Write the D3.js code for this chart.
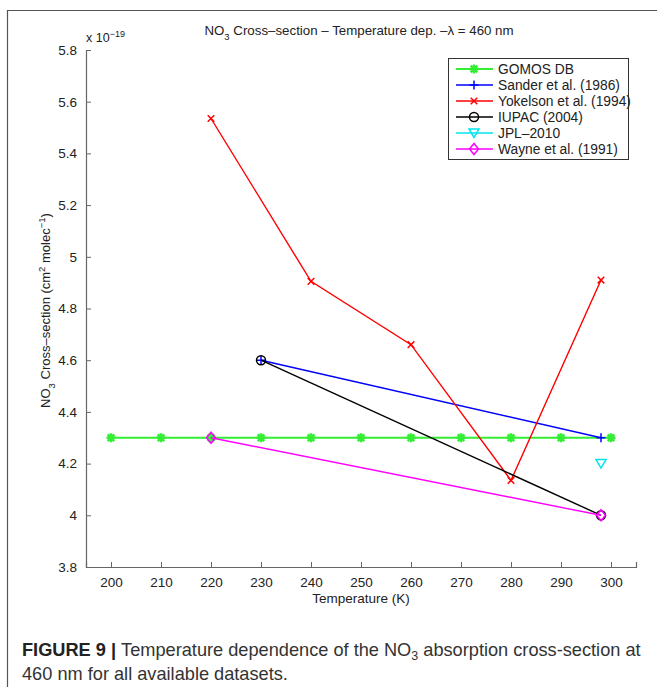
<!DOCTYPE html>
<html>
<head>
<meta charset="utf-8">
<script src="https://cdn.jsdelivr.net/npm/d3@7"></script>
<style>
  body { margin: 0; background: #fff; }
  svg text { font-family: "Liberation Sans", Arial, sans-serif; }
</style>
</head>
<body>
<div id="chart"></div>
<script>
// data (cross-section in units of 1e-19 cm2/molec)
var gomosT = [200, 210, 220, 230, 240, 250, 260, 270, 280, 290, 300];
var gomosV = [4.3, 4.3, 4.3, 4.3, 4.3, 4.3, 4.3, 4.3, 4.3, 4.3, 4.3];
var sanderT = [230, 298];
var sanderV = [4.6, 4.3];
var yokelsonT = [220, 240, 260, 280, 298];
var yokelsonV = [5.535, 4.905, 4.66, 4.135, 4.91];
var iupacT = [230, 298];
var iupacV = [4.6, 4.0];
var jplT = [298];
var jplV = [4.2];
var wayneT = [220, 298];
var wayneV = [4.3, 4.0];

var xTicks = [200, 210, 220, 230, 240, 250, 260, 270, 280, 290, 300];
var yTicks = [3.8, 4, 4.2, 4.4, 4.6, 4.8, 5, 5.2, 5.4, 5.6, 5.8];

var series = [
    {name: "GOMOS DB", t: gomosT, v: gomosV, color: "#33ee33", marker: "star"},
    {name: "Sander et al. (1986)", t: sanderT, v: sanderV, color: "#0000ff", marker: "plus"},
    {name: "Yokelson et al. (1994)", t: yokelsonT, v: yokelsonV, color: "#ff0000", marker: "cross"},
    {name: "IUPAC (2004)", t: iupacT, v: iupacV, color: "#000000", marker: "circle"},
    {name: "JPL\u20132010", t: jplT, v: jplV, color: "#00e5ee", marker: "triangle"},
    {name: "Wayne et al. (1991)", t: wayneT, v: wayneV, color: "#ff00ff", marker: "diamond"}
];

var svgWidth = 657, svgHeight = 687;
var margin = {top: 50, left: 86, right: 21, bottom: 120};
var chart_width = svgWidth - margin.left - margin.right;
var chart_height = svgHeight - margin.top - margin.bottom;

var svg = d3.select("#chart").append("svg")
    .attr("width", svgWidth)
    .attr("height", svgHeight);

// outer frame of the figure panel
svg.append("path")
    .attr("d", "M7.5,700 V10.5 H700")
    .attr("fill", "none")
    .attr("stroke", "#555")
    .attr("stroke-width", 1.2);

var chartGroup = svg.append("g")
    .attr("transform", `translate(${margin.left}, ${margin.top})`);

var xScale = d3.scaleLinear().domain([195, 305]).range([0, chart_width]);
var yScale = d3.scaleLinear().domain([3.8, 5.8]).range([chart_height, 0]);

// axes, MATLAB style ticks pointing inward
var bottomAxis = d3.axisBottom(xScale).tickValues(xTicks).tickSize(-5).tickPadding(10).tickFormat(d3.format("d"));
var leftAxis = d3.axisLeft(yScale).tickValues(yTicks).tickSize(-5).tickPadding(9).tickFormat(d => d3.format("")(+d.toFixed(1)));

var xAxis = chartGroup.append("g")
    .attr("transform", `translate(0, ${chart_height})`)
    .call(bottomAxis);
var yAxis = chartGroup.append("g").call(leftAxis);

[xAxis, yAxis].forEach(function(ax) {
    ax.select(".domain").attr("stroke", "#666").attr("stroke-width", 1.2);
    ax.selectAll(".tick line").attr("stroke", "#666");
    ax.selectAll(".tick text").attr("font-size", 13.5).attr("fill", "#222")
        .attr("font-family", "Liberation Sans, Arial, sans-serif");
});

// exponent label
var expo = chartGroup.append("text")
    .attr("x", 0).attr("y", -8)
    .attr("font-size", 12.5).attr("fill", "#222");
expo.append("tspan").text("x 10");
expo.append("tspan").attr("dy", -5).attr("font-size", 9).text("\u221219");

// title
var title = svg.append("text")
    .attr("x", 359).attr("y", 35)
    .attr("text-anchor", "middle").attr("font-size", 13.3).attr("fill", "#222");
title.append("tspan").text("NO");
title.append("tspan").attr("dy", 5).attr("font-size", 9.5).text("3");
title.append("tspan").attr("dy", -5).text(" Cross\u2013section \u2013 Temperature dep. \u2013\u03bb = 460 nm");

// axis labels
svg.append("text")
    .attr("x", margin.left + chart_width / 2).attr("y", margin.top + chart_height + 36)
    .attr("text-anchor", "middle").attr("font-size", 13.5).attr("fill", "#222")
    .text("Temperature (K)");

var ylab = svg.append("text")
    .attr("transform", `translate(50, ${margin.top + chart_height / 2 + 2}) rotate(-90)`)
    .attr("text-anchor", "middle").attr("font-size", 13).attr("fill", "#222");
ylab.append("tspan").text("NO");
ylab.append("tspan").attr("dy", 5).attr("font-size", 9.5).text("3");
ylab.append("tspan").attr("dy", -5).text(" Cross\u2013section (cm");
ylab.append("tspan").attr("dy", -5).attr("font-size", 9.5).text("2");
ylab.append("tspan").attr("dy", 5).text(" molec");
ylab.append("tspan").attr("dy", -5).attr("font-size", 9.5).text("\u22121");
ylab.append("tspan").attr("dy", 5).text(")");

// markers
function markerPath(type) {
    var s = 4.5;
    switch (type) {
        case "plus": return `M${-s},0H${s}M0,${-s}V${s}`;
        case "cross": return `M-3.3,-3.3L3.3,3.3M-3.3,3.3L3.3,-3.3`;
        case "star": return `M${-s},0H${s}M0,${-s}V${s}M-3.3,-3.3L3.3,3.3M-3.3,3.3L3.3,-3.3`;
        case "circle": return `M${s},0A${s},${s} 0 1,1 ${-s},0A${s},${s} 0 1,1 ${s},0Z`;
        case "triangle": return `M-5,-4H5L0,4.5Z`;
        case "diamond": return `M0,-5.5L4.5,0L0,5.5L-4.5,0Z`;
    }
}

var line = d3.line().x(d => xScale(d[0])).y(d => yScale(d[1]));

series.forEach(function(s) {
    var pts = s.t.map((t, i) => [t, s.v[i]]);
    var g = chartGroup.append("g");
    if (pts.length > 1) {
        g.append("path")
            .datum(pts)
            .attr("d", line)
            .attr("fill", "none")
            .attr("stroke", s.color)
            .attr("stroke-width", s.marker == "star" ? 2 : 1.4);
    }
    g.selectAll("path.mk")
        .data(pts)
        .enter()
        .append("path")
        .attr("class", "mk")
        .attr("transform", d => `translate(${xScale(d[0])}, ${yScale(d[1])})`)
        .attr("d", markerPath(s.marker))
        .attr("fill", "none")
        .attr("stroke", s.color)
        .attr("stroke-width", s.marker == "star" ? 2.4 : 1.5);
});

// legend
var legend = svg.append("g").attr("transform", "translate(448, 58)");
legend.append("rect")
    .attr("x", 0.5).attr("y", 0.5)
    .attr("width", 180).attr("height", 101)
    .attr("fill", "#fff").attr("stroke", "#333").attr("stroke-width", 1);

series.forEach(function(s, i) {
    var ly = 11 + i * 16;
    var row = legend.append("g");
    row.append("line")
        .attr("x1", 8).attr("x2", 45).attr("y1", ly).attr("y2", ly)
        .attr("stroke", s.color).attr("stroke-width", s.marker == "star" ? 2 : 1.4);
    row.append("path")
        .attr("transform", `translate(26, ${ly})`)
        .attr("d", markerPath(s.marker))
        .attr("fill", "none").attr("stroke", s.color)
        .attr("stroke-width", s.marker == "star" ? 2.4 : 1.5);
    row.append("text")
        .attr("x", 50).attr("y", ly + 5)
        .attr("font-size", 13.8).attr("fill", "#222")
        .text(s.name);
});

// caption
var cap1 = svg.append("text")
    .attr("x", 22).attr("y", 656)
    .attr("font-size", 18.2).attr("fill", "#333")
    .attr("font-family", "Liberation Sans, Arial, sans-serif");
cap1.append("tspan").attr("font-weight", "bold").attr("fill", "#222").text("FIGURE 9 | ");
cap1.append("tspan").text("Temperature dependence of the NO");
cap1.append("tspan").attr("dy", 4).attr("font-size", 12.5).text("3");
cap1.append("tspan").attr("dy", -4).text(" absorption cross-section at");

svg.append("text")
    .attr("x", 22).attr("y", 680)
    .attr("font-size", 18.2).attr("fill", "#333")
    .text("460 nm for all available datasets.");
</script>
</body>
</html>
